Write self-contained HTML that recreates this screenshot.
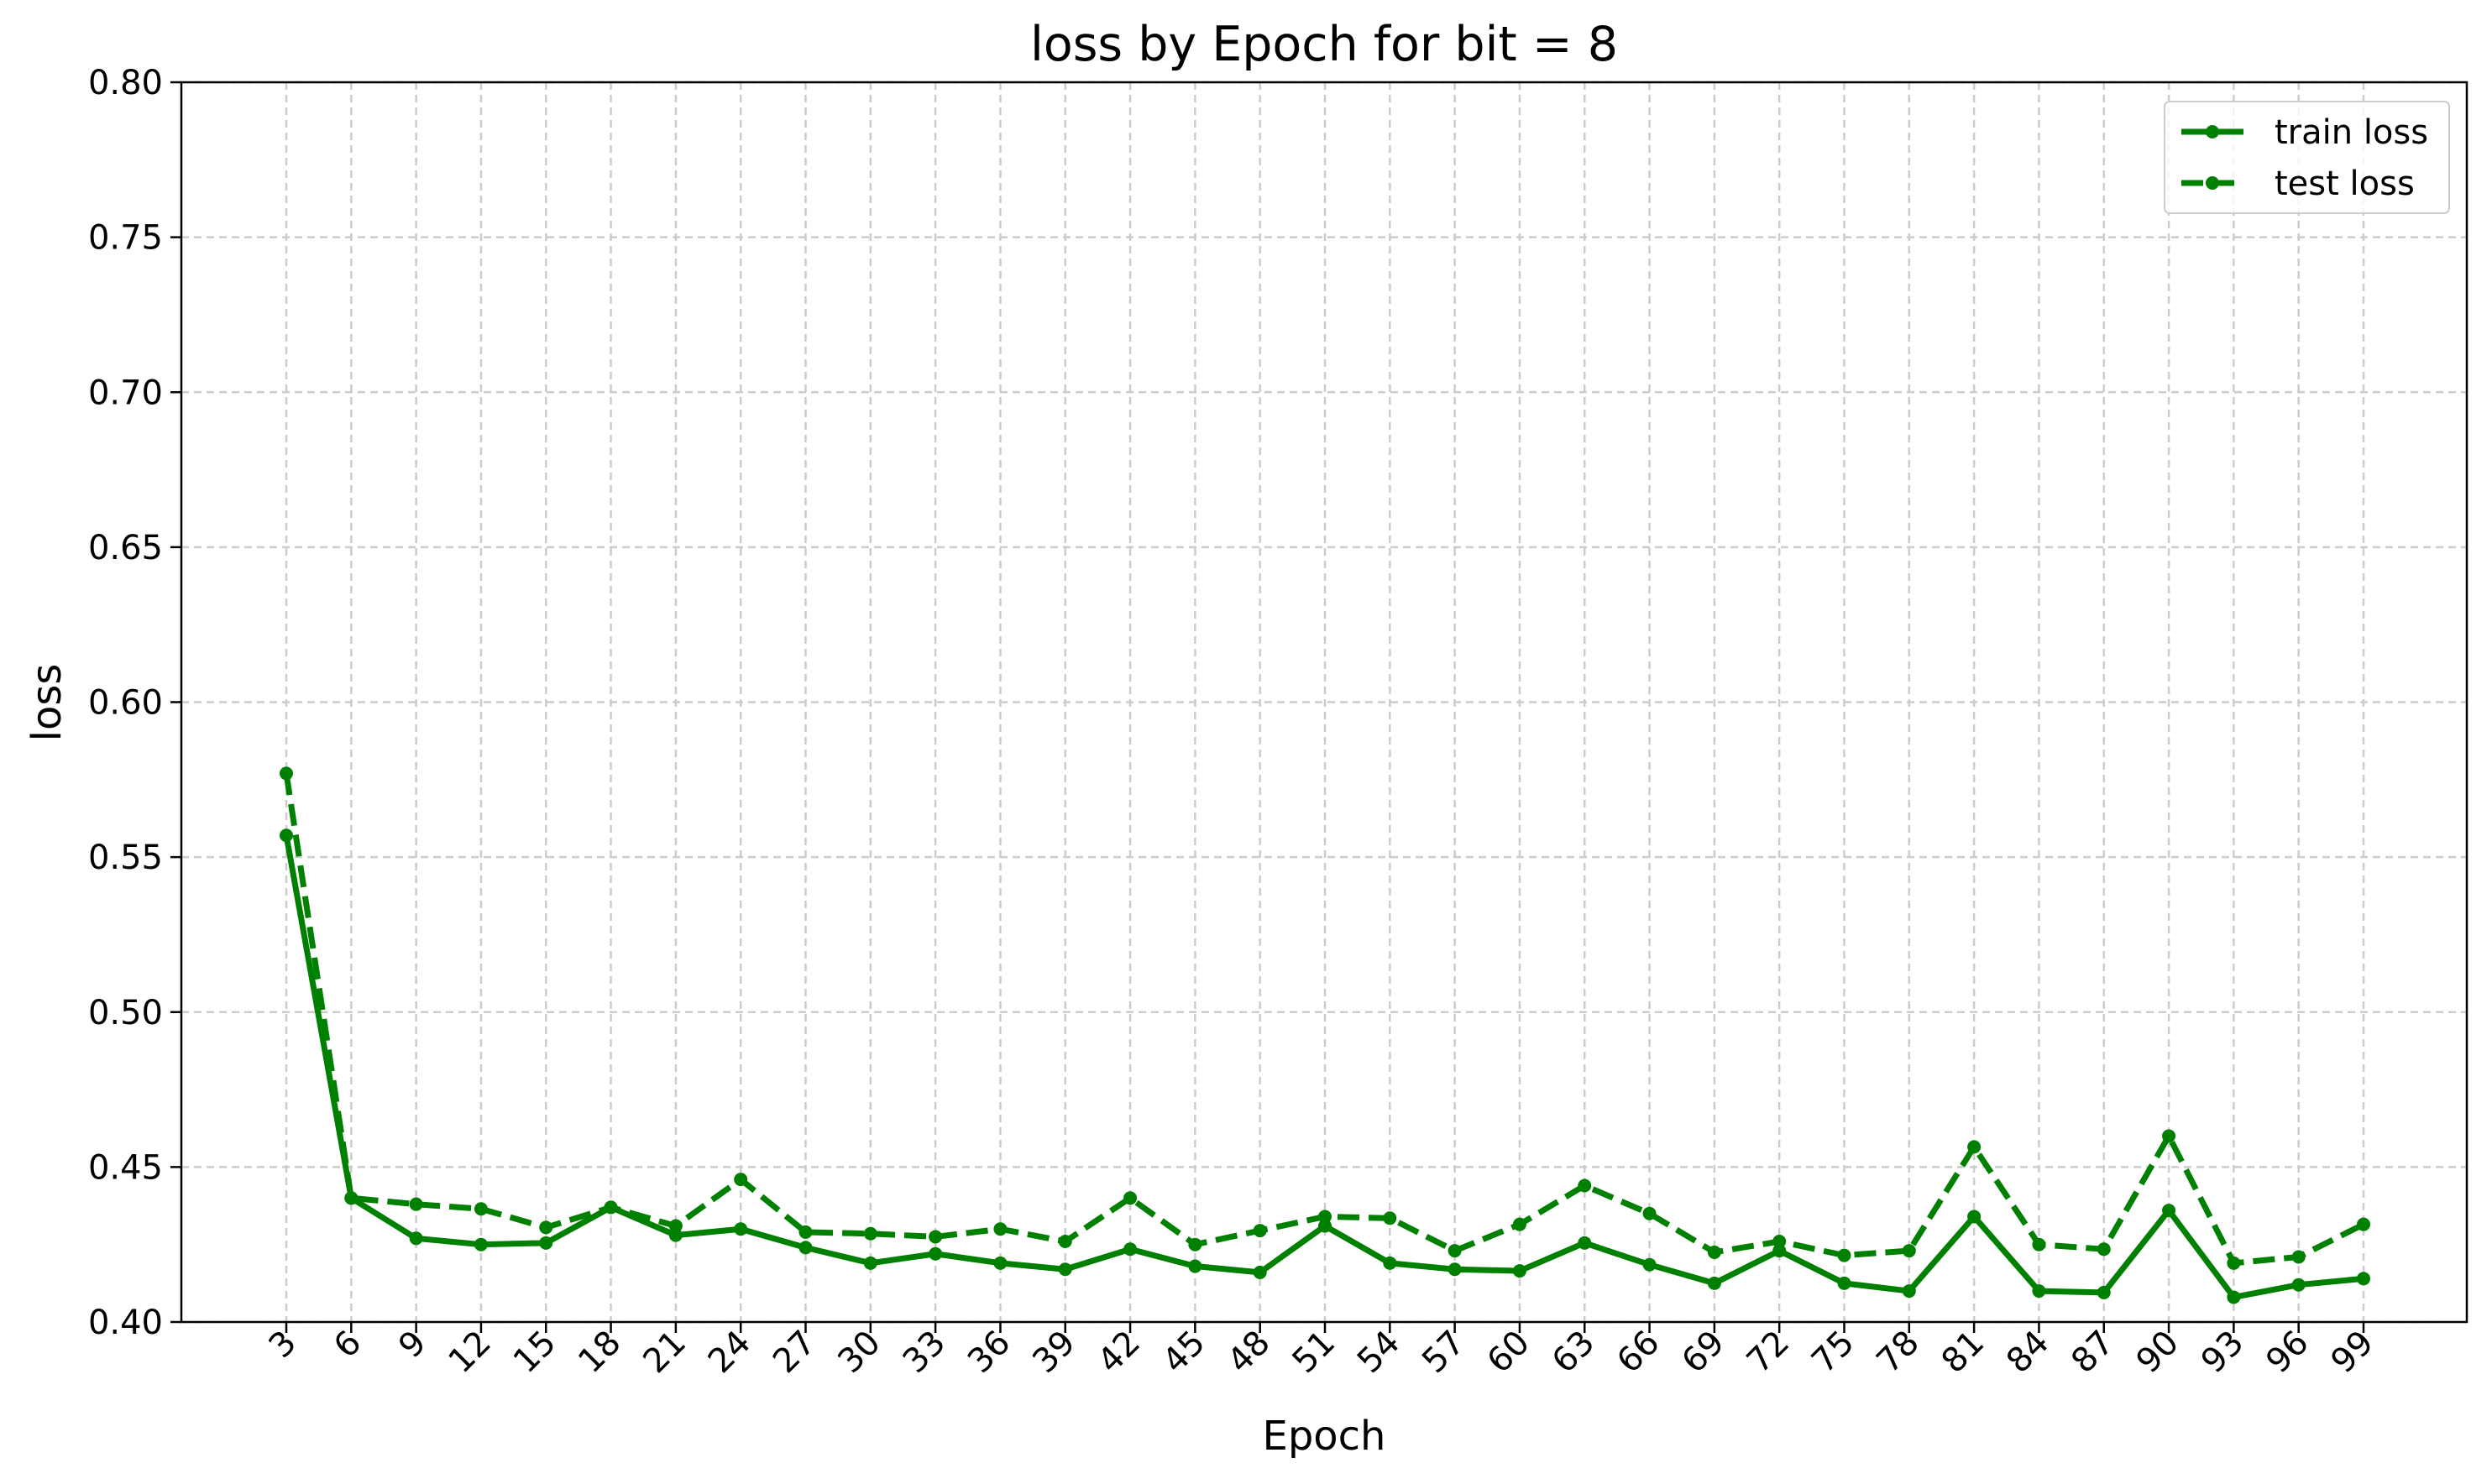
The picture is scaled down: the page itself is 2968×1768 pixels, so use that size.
<!DOCTYPE html>
<html><head><meta charset="utf-8"><style>
html,body{margin:0;padding:0;background:#fff;}
svg{display:block;font-family:"DejaVu Sans","Liberation Sans",sans-serif;}
</style></head><body>
<svg id="chart" width="2968" height="1768" viewBox="0 0 2968 1768" xmlns="http://www.w3.org/2000/svg">
<text x="1577" y="72" font-size="57" text-anchor="middle">loss by Epoch for bit = 8</text>
<g id="grid"></g>
<g id="ticks"></g>
<g id="series"></g>
<rect x="216" y="98" width="2722" height="1477" fill="none" stroke="#000" stroke-width="2.5"/>
<text x="1577" y="1727" font-size="48" text-anchor="middle">Epoch</text>
<text transform="translate(72,837) rotate(-90)" font-size="48" text-anchor="middle">loss</text>
<g>
<rect x="2578" y="121" width="339" height="133" rx="6" fill="#fff" fill-opacity="0.8" stroke="#ccc" stroke-width="2"/>
<g>
<line x1="2598" y1="157" x2="2672" y2="157" stroke="#008000" stroke-width="7"/>
<circle cx="2635" cy="157" r="8" fill="#008000"/>
<text x="2709" y="171" font-size="40">train loss</text></g>
<g>
<line x1="2598" y1="218" x2="2672" y2="218" stroke="#008000" stroke-width="7" stroke-dasharray="26,11"/>
<circle cx="2635" cy="218" r="8" fill="#008000"/>
<text x="2709" y="232" font-size="40">test loss</text></g>
</g>
</svg>
<script>
const epochs=[3,6,9,12,15,18,21,24,27,30,33,36,39,42,45,48,51,54,57,60,63,66,69,72,75,78,81,84,87,90,93,96,99];
const trainLoss=[0.557,0.440,0.427,0.425,0.4255,0.437,0.428,0.430,0.424,0.419,0.422,0.419,0.417,0.4235,0.418,0.416,0.431,0.419,0.417,0.4165,0.4255,0.4185,0.4125,0.423,0.4125,0.410,0.434,0.410,0.4095,0.436,0.408,0.412,0.414];
const testLoss=[0.577,0.440,0.438,0.4365,0.4305,0.437,0.431,0.446,0.429,0.4285,0.4275,0.430,0.426,0.440,0.425,0.4295,0.434,0.4335,0.423,0.4315,0.444,0.435,0.4225,0.426,0.4215,0.423,0.4565,0.425,0.4235,0.460,0.419,0.421,0.4315];
const yTicks=[0.40,0.45,0.50,0.55,0.60,0.65,0.70,0.75,0.80];
const NS='http://www.w3.org/2000/svg';
function xS(e){return 341+(e-3)*(2815-341)/96;}
function yS(v){return 1575-(v-0.40)*(1575-98)/0.40;}
function mk(tag,attrs,parent){const el=document.createElementNS(NS,tag);for(const k in attrs)el.setAttribute(k,attrs[k]);parent.appendChild(el);return el;}
const grid=document.getElementById('grid'),ticks=document.getElementById('ticks'),series=document.getElementById('series');
yTicks.forEach(v=>{
  const y=yS(v);
  const g=mk('line',{x1:216,x2:2938,y1:y,y2:y,stroke:'#ccc','stroke-width':2.5,'stroke-dasharray':'9,6'},grid);
  
  
  mk('line',{x1:203,x2:216,y1:y,y2:y,stroke:'#000','stroke-width':2.5},ticks);
  const t=mk('text',{x:194,y:y+14,'font-size':40,'text-anchor':'end'},ticks);
  t.textContent=v.toFixed(2);
  
  
});
epochs.forEach(e=>{
  const x=xS(e);
  const g=mk('line',{x1:x,x2:x,y1:98,y2:1575,stroke:'#ccc','stroke-width':2.5,'stroke-dasharray':'9,6'},grid);
  
  
  mk('line',{x1:x,x2:x,y1:1575,y2:1588,stroke:'#000','stroke-width':2.5},ticks);
  const t=mk('text',{x:0,y:0,'font-size':40,'text-anchor':'end',transform:`translate(${x+14},1602) rotate(-45)`},ticks);
  t.textContent=e;
  
  
});
function drawSeries(vals,name,dash){
  const pts=epochs.map((e,i)=>xS(e)+','+yS(vals[i])).join(' ');
  const attrs={points:pts,fill:'none',stroke:'#008000','stroke-width':7,'stroke-linejoin':'round'};
  if(dash)attrs['stroke-dasharray']='26,11';
  const pl=mk('polyline',attrs,series);
  
  
  epochs.forEach((e,i)=>{
    const c=mk('circle',{cx:xS(e),cy:yS(vals[i]),r:8,fill:'#008000'},series);
    
    
  });
}
drawSeries(trainLoss,'train-loss',false);
drawSeries(testLoss,'test-loss',true);
</script>
</body></html>
